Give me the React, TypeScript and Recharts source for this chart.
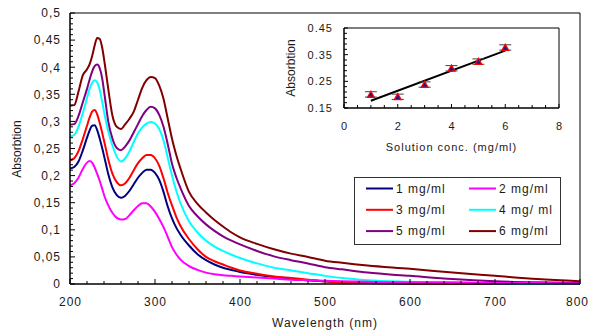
import React from 'react';
import { LineChart, ComposedChart, Line, XAxis, YAxis, ReferenceLine, Scatter, ErrorBar, Legend } from 'recharts';

// ---- Main spectra data ----
const wavelengths = [200, 205, 210, 215, 220, 223, 226, 229, 232, 235, 238, 241, 245, 250, 255, 260, 265, 270, 275, 280, 285, 290, 295, 300, 305, 310, 315, 320, 325, 330, 340, 350, 360, 370, 380, 390, 400, 420, 440, 460, 480, 500, 520, 550, 600, 650, 700, 750, 800];

const conc1 = [0.213, 0.216, 0.226, 0.246, 0.270, 0.283, 0.292, 0.293, 0.284, 0.268, 0.250, 0.230, 0.203, 0.178, 0.164, 0.159, 0.163, 0.172, 0.184, 0.196, 0.205, 0.211, 0.211, 0.205, 0.192, 0.170, 0.143, 0.121, 0.104, 0.091, 0.071, 0.055, 0.044, 0.036, 0.030, 0.026, 0.022, 0.017, 0.013, 0.010, 0.007, 0.005, 0.003, 0.002, 0.001, 0, 0, 0, 0];
const conc2 = [0.182, 0.186, 0.196, 0.212, 0.224, 0.227, 0.224, 0.215, 0.203, 0.190, 0.175, 0.160, 0.145, 0.131, 0.122, 0.119, 0.120, 0.127, 0.136, 0.144, 0.149, 0.149, 0.143, 0.133, 0.120, 0.105, 0.087, 0.068, 0.055, 0.045, 0.033, 0.026, 0.021, 0.018, 0.016, 0.015, 0.014, 0.012, 0.010, 0.008, 0.007, 0.006, 0.005, 0.004, 0.003, 0.003, 0.002, 0.002, 0.001];
const conc3 = [0.228, 0.232, 0.245, 0.267, 0.292, 0.307, 0.318, 0.321, 0.313, 0.297, 0.278, 0.258, 0.230, 0.203, 0.188, 0.182, 0.186, 0.196, 0.210, 0.223, 0.232, 0.238, 0.238, 0.232, 0.218, 0.195, 0.168, 0.145, 0.124, 0.107, 0.083, 0.064, 0.050, 0.042, 0.036, 0.030, 0.025, 0.019, 0.014, 0.011, 0.008, 0.005, 0.003, 0.002, 0.001, 0, 0, 0, 0];
const conc4 = [0.272, 0.275, 0.290, 0.315, 0.343, 0.360, 0.371, 0.376, 0.372, 0.358, 0.335, 0.310, 0.282, 0.255, 0.235, 0.226, 0.232, 0.245, 0.262, 0.278, 0.289, 0.296, 0.299, 0.296, 0.286, 0.265, 0.233, 0.200, 0.172, 0.149, 0.116, 0.095, 0.080, 0.069, 0.061, 0.054, 0.048, 0.038, 0.030, 0.025, 0.020, 0.015, 0.011, 0.007, 0.004, 0.002, 0.001, 0, 0];
const conc5 = [0.294, 0.295, 0.310, 0.335, 0.360, 0.377, 0.392, 0.402, 0.405, 0.398, 0.378, 0.345, 0.300, 0.268, 0.251, 0.247, 0.254, 0.265, 0.280, 0.295, 0.310, 0.321, 0.327, 0.324, 0.312, 0.290, 0.258, 0.222, 0.197, 0.177, 0.144, 0.125, 0.110, 0.098, 0.088, 0.080, 0.073, 0.061, 0.051, 0.044, 0.038, 0.031, 0.027, 0.021, 0.015, 0.009, 0.005, 0.003, 0.002];
const conc6 = [0.329, 0.330, 0.355, 0.385, 0.396, 0.405, 0.420, 0.440, 0.454, 0.452, 0.435, 0.405, 0.360, 0.310, 0.290, 0.286, 0.295, 0.305, 0.318, 0.340, 0.362, 0.376, 0.382, 0.380, 0.366, 0.342, 0.305, 0.268, 0.238, 0.213, 0.170, 0.148, 0.132, 0.118, 0.106, 0.095, 0.086, 0.074, 0.064, 0.056, 0.050, 0.043, 0.039, 0.034, 0.028, 0.021, 0.015, 0.009, 0.005];

const seriesNames = ['1 mg/ml', '2 mg/ml', '3 mg/ml', '4 mg/ ml', '5 mg/ml', '6 mg/ml'];
const seriesKeys = ['c1', 'c2', 'c3', 'c4', 'c5', 'c6'];
const seriesColors = ['#000080', '#ff00ff', '#ff0000', '#00ffff', '#800080', '#800000'];
const seriesValues = [conc1, conc2, conc3, conc4, conc5, conc6];
const drawOrder = [0, 2, 3, 4, 5, 1];

const xMajorTicks = [200, 300, 400, 500, 600, 700, 800];
const yMajorLabels = ['0', '0,05', '0,1', '0,15', '0,2', '0,25', '0,3', '0,35', '0,4', '0,45', '0,5'];

// ---- Inset data ----
const insetConc = [1, 2, 3, 4, 5, 6];
const insetAbs = [0.201, 0.192, 0.238, 0.299, 0.324, 0.377];
const insetErr = [0.01, 0.01, 0.01, 0.01, 0.01, 0.01];
const trendConc = [1, 6];
const trendAbs = [0.177, 0.365];
const insetXLabels = ['0', '2', '4', '6', '8'];
const insetYLabels = ['0.15', '0.25', '0.35', '0.45'];

const mainData = wavelengths.map((w, i) => {
  const row: any = { nm: w };
  seriesKeys.forEach((k, s) => { row[k] = seriesValues[s][i]; });
  return row;
});
const insetPoints = insetConc.map((x, i) => ({ x, y: insetAbs[i], err: insetErr[i] }));
const trendData = trendConc.map((x, i) => ({ x, y: trendAbs[i] }));

const xTicks = Array.from({ length: 31 }, (_, i) => 200 + i * 20);
const yTicks = Array.from({ length: 51 }, (_, i) => i / 100);
const insetXTicks = Array.from({ length: 17 }, (_, i) => i * 0.5);
const insetYTicks = Array.from({ length: 16 }, (_, i) => (15 + i * 2) / 100);

const FONT = '"Liberation Sans", Arial, sans-serif';
const TXT = '#1a1a1a';

const MainXTick = (props: any) => {
  const { x, y, payload } = props;
  const v = payload.value;
  const major = v % 100 === 0;
  const last = v === 800;
  return (
    <g>
      <line x1={x} y1={y} x2={x} y2={y - (major ? 5 : 3)} stroke="#000" strokeWidth={1} />
      {major && (
        <text
          x={last ? 589 : x + 0.5}
          y={y + 22}
          textAnchor={last ? 'end' : 'middle'}
          fontSize={12}
          letterSpacing={1}
          fill={TXT}
          fontFamily={FONT}
        >
          {xMajorTicks[xMajorTicks.indexOf(v)]}
        </text>
      )}
    </g>
  );
};

const MainYTick = (props: any) => {
  const { x, y, payload } = props;
  const n = Math.round(payload.value * 100);
  const major = n % 5 === 0;
  return (
    <g>
      <line x1={x} y1={y} x2={x + (major ? 5 : 3)} y2={y} stroke="#000" strokeWidth={1} />
      {major && (
        <text x={x - 9} y={y + 4.3} textAnchor="end" fontSize={12} letterSpacing={1} fill={TXT} fontFamily={FONT}>
          {yMajorLabels[n / 5]}
        </text>
      )}
    </g>
  );
};

const InsetXTick = (props: any) => {
  const { x, y, payload } = props;
  const v = payload.value;
  const major = Math.round(v * 2) % 4 === 0;
  return (
    <g>
      <line x1={x} y1={y} x2={x} y2={y - (major ? 4 : 3)} stroke="#000" strokeWidth={1} />
      {major && (
        <text x={x + 0.5} y={y + 22} textAnchor="middle" fontSize={11} letterSpacing={1} fill={TXT} fontFamily={FONT}>
          {insetXLabels[Math.round(v / 2)]}
        </text>
      )}
    </g>
  );
};

const InsetYTick = (props: any) => {
  const { x, y, payload } = props;
  const n = Math.round(payload.value * 100) - 15;
  const major = n % 10 === 0;
  return (
    <g>
      <line x1={x} y1={y} x2={x + (major ? 4 : 3)} y2={y} stroke="#000" strokeWidth={1} />
      {major && (
        <text x={x - 11} y={y + 4} textAnchor="end" fontSize={11} letterSpacing={1} fill={TXT} fontFamily={FONT}>
          {insetYLabels[n / 10]}
        </text>
      )}
    </g>
  );
};

const Triangle = (props: any) => {
  const { cx, cy } = props;
  if (cx == null || cy == null) return null;
  return (
    <g>
      <polygon points={`${cx},${cy - 4.5} ${cx - 4.5},${cy + 3.5} ${cx + 4.5},${cy + 3.5}`} fill="#ff0000" />
      <polygon points={`${cx},${cy - 2} ${cx - 2.3},${cy + 2.2} ${cx + 2.3},${cy + 2.2}`} fill="#1a1a90" />
    </g>
  );
};

const renderLegend = () => (
  <svg width={208} height={69} style={{ display: 'block' }}>
    <rect x={0.5} y={0.5} width={206} height={67} fill="#fff" stroke="#333" strokeWidth={1} />
    {seriesNames.map((name, i) => {
      const col = i % 2;
      const row = Math.floor(i / 2);
      const lx = 12 + col * 103;
      const cy = 11.5 + row * 21.3;
      return (
        <g key={name}>
          <line x1={lx} y1={cy} x2={lx + 27} y2={cy} stroke={seriesColors[i]} strokeWidth={2} />
          <text x={lx + 30} y={cy + 4.3} fontSize={12} letterSpacing={1} fill={TXT} fontFamily={FONT}>{name}</text>
        </g>
      );
    })}
  </svg>
);

export default function App() {
  return (
    <div style={{ position: 'absolute', left: 0, top: 0, width: 590, height: 332, background: '#fff', fontFamily: FONT }}>
      <LineChart width={590} height={332} data={mainData} margin={{ top: 13, right: 10, bottom: 8, left: 0 }}>
        <XAxis
          dataKey="nm"
          type="number"
          domain={[200, 800]}
          ticks={xTicks}
          interval={0}
          tick={(p: any) => <MainXTick {...p} />}
          tickLine={false}
          tickSize={0}
          tickMargin={0}
          height={40}
          axisLine={{ stroke: '#000', strokeWidth: 1.5 }}
          label={() => (
            <text x={325} y={327} textAnchor="middle" fontSize={12} letterSpacing={1} fill={TXT} fontFamily={FONT}>Wavelength (nm)</text>
          )}
        />
        <YAxis
          type="number"
          domain={[0, 0.5]}
          ticks={yTicks}
          interval={0}
          tick={(p: any) => <MainYTick {...p} />}
          tickLine={false}
          tickSize={0}
          tickMargin={0}
          width={70}
          axisLine={{ stroke: '#000', strokeWidth: 1.5 }}
          label={() => (
            <text x={21} y={149} transform="rotate(-90 21 149)" textAnchor="middle" fontSize={12} fill={TXT} fontFamily={FONT}>Absorbtion</text>
          )}
        />
        <ReferenceLine y={0.5} stroke="#000" strokeWidth={1} />
        <ReferenceLine x={800} stroke="#000" strokeWidth={1} />
        {drawOrder.map((s) => (
          <Line
            key={seriesKeys[s]}
            dataKey={seriesKeys[s]}
            name={seriesNames[s]}
            stroke={seriesColors[s]}
            strokeWidth={2}
            dot={false}
            type="monotone"
            isAnimationActive={false}
          />
        ))}
        <Legend
          layout="horizontal"
          verticalAlign="middle"
          align="center"
          content={renderLegend}
          wrapperStyle={{ position: 'absolute', left: 354, top: 177, width: 208, height: 69 }}
        />
      </LineChart>
      <div style={{ position: 'absolute', left: 270, top: 15 }}>
        <ComposedChart width={300} height={145} margin={{ top: 13, right: 11, bottom: 12, left: 0 }}>
          <XAxis
            dataKey="x"
            type="number"
            domain={[0, 8]}
            ticks={insetXTicks}
            interval={0}
            tick={(p: any) => <InsetXTick {...p} />}
            tickLine={false}
            tickSize={0}
            tickMargin={0}
            height={40}
            axisLine={{ stroke: '#000', strokeWidth: 1.5 }}
            label={() => (
              <text x={181.5} y={135.5} textAnchor="middle" fontSize={11} letterSpacing={1} fill={TXT} fontFamily={FONT}>Solution conc. (mg/ml)</text>
            )}
          />
          <YAxis
            dataKey="y"
            type="number"
            domain={[0.15, 0.45]}
            ticks={insetYTicks}
            interval={0}
            tick={(p: any) => <InsetYTick {...p} />}
            tickLine={false}
            tickSize={0}
            tickMargin={0}
            width={74}
            axisLine={{ stroke: '#000', strokeWidth: 1.5 }}
            label={() => (
              <text x={25} y={53} transform="rotate(-90 25 53)" textAnchor="middle" fontSize={12} fill={TXT} fontFamily={FONT}>Absorbtion</text>
            )}
          />
          <ReferenceLine y={0.45} stroke="#000" strokeWidth={1} />
          <ReferenceLine x={8} stroke="#000" strokeWidth={1} />
          <Line data={trendData} dataKey="y" stroke="#000" strokeWidth={2} dot={false} type="linear" isAnimationActive={false} />
          <Scatter data={insetPoints} dataKey="y" shape={Triangle} isAnimationActive={false}>
            <ErrorBar dataKey="err" direction="y" width={6} stroke="#444" strokeWidth={1} />
          </Scatter>
        </ComposedChart>
      </div>
    </div>
  );
}
